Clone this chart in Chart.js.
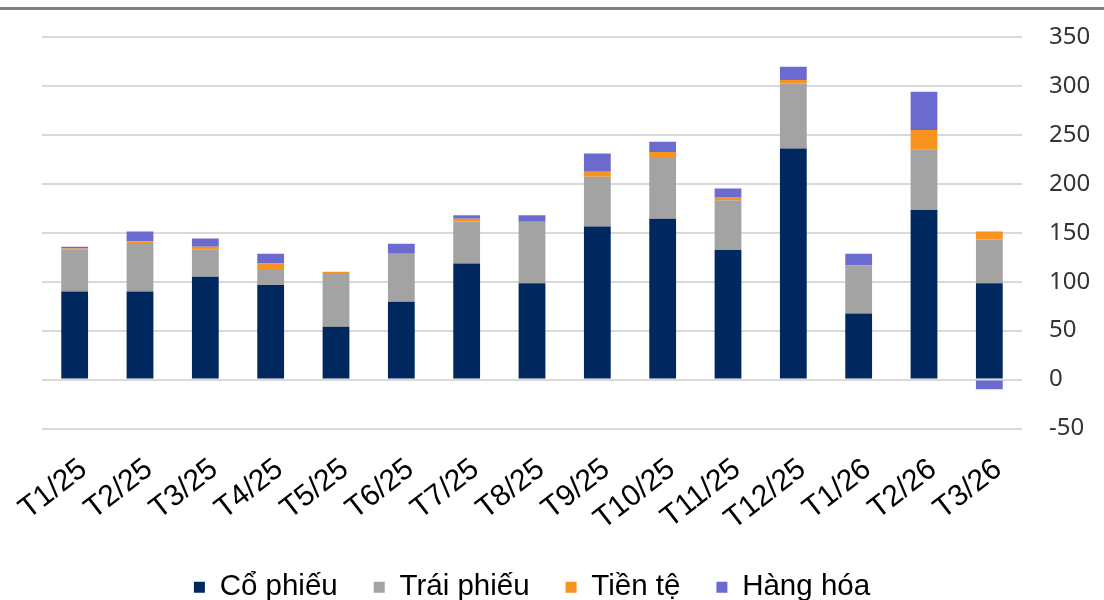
<!DOCTYPE html>
<html>
<head>
<meta charset="utf-8">
<script src="https://cdn.jsdelivr.net/npm/chart.js@4/dist/chart.umd.min.js"></script>
<style>
  html, body { margin: 0; padding: 0; background: #fff; }
  #wrap { position: relative; width: 1104px; height: 600px; }
  #topline { position: absolute; left: 0; top: 7px; width: 1104px; height: 3px; background: #808080; }
  canvas { position: absolute; left: 0; top: 0; }
</style>
</head>
<body>
<div id="wrap">
  <canvas id="c" width="1104" height="600"></canvas>
  <div id="topline"></div>
</div>
<script>
// tháng
const labels = ["T1/25", "T2/25", "T3/25", "T4/25", "T5/25", "T6/25", "T7/25", "T8/25",
                "T9/25", "T10/25", "T11/25", "T12/25", "T1/26", "T2/26", "T3/26"];

// giá trị từng nhóm tài sản
const coPhieu  = [90, 90, 105, 96.5, 54, 79.5, 118.7, 98.3, 156.3, 164.4, 132.4, 236.1, 67.6, 173.3, 98.3];
const traiPhieu = [42.7, 49.5, 27.7, 15.4, 54.8, 49, 42.7, 63, 51, 62.9, 50.8, 66.5, 49.1, 61.4, 44.7];
const tienTe   = [1.3, 1.7, 3, 6.8, 1.4, 0, 3, 0, 4.9, 5.2, 3.4, 3.4, 0, 20.2, 8.2];
const hangHoa  = [1.7, 10, 8.5, 9.9, 0, 10.3, 3.5, 6.5, 18.7, 10.4, 8.5, 13.7, 11.9, 39.2, -10];

const yTicks = { min: -50, max: 350, step: 50 };

const series = [
  { label: "Cổ phiếu",   data: coPhieu,   color: "#00285e" },
  { label: "Trái phiếu", data: traiPhieu, color: "#a3a3a3" },
  { label: "Tiền tệ",    data: tienTe,    color: "#f7931e" },
  { label: "Hàng hóa",   data: hangHoa,   color: "#6b6bcf" },
];

new Chart(document.getElementById("c"), {
  type: "bar",
  data: {
    labels,
    datasets: series.map((s) => ({
      label: s.label,
      data: s.data,
      backgroundColor: s.color,
      borderWidth: 0,
      categoryPercentage: 1,
      barPercentage: 0.41,
    })),
  },
  options: {
    responsive: false,
    animation: false,
    devicePixelRatio: 1,
    layout: { padding: { left: 42, top: 37, right: 0, bottom: -12 } },
    scales: {
      x: {
        stacked: true,
        grid: { display: false },
        border: { display: false },
        ticks: {
          color: "#000",
          font: { family: "'Liberation Sans', Arial, sans-serif", size: 30 },
          minRotation: 38,
          maxRotation: 38,
          padding: 15,
          labelOffset: 9,
          autoSkip: false,
        },
        // cố định vùng vẽ: nhãn xoay không được đẩy lề trái
        afterFit(axis) { axis.height = 108; axis.paddingLeft = 0; axis.paddingRight = 0; },
      },
      y: {
        stacked: true,
        position: "right",
        min: yTicks.min,
        max: yTicks.max,
        grid: { color: "#d9d9d9", lineWidth: 2, drawTicks: false },
        border: { display: false },
        ticks: {
          stepSize: yTicks.step,
          color: "#333",
          font: { family: "'Noto Sans', sans-serif", size: 24 },
          padding: 27,
        },
        afterFit(axis) { axis.width = 82; axis.paddingTop = 0; axis.paddingBottom = 0; },
      },
    },
    plugins: {
      legend: {
        position: "bottom",
        fullSize: false,
        labels: {
          color: "#000",
          font: { family: "'Liberation Sans', Arial, sans-serif", size: 29.5 },
          boxWidth: 11,
          boxHeight: 11,
          padding: 36,
        },
      },
      tooltip: { enabled: false },
    },
  },
});
</script>
</body>
</html>
